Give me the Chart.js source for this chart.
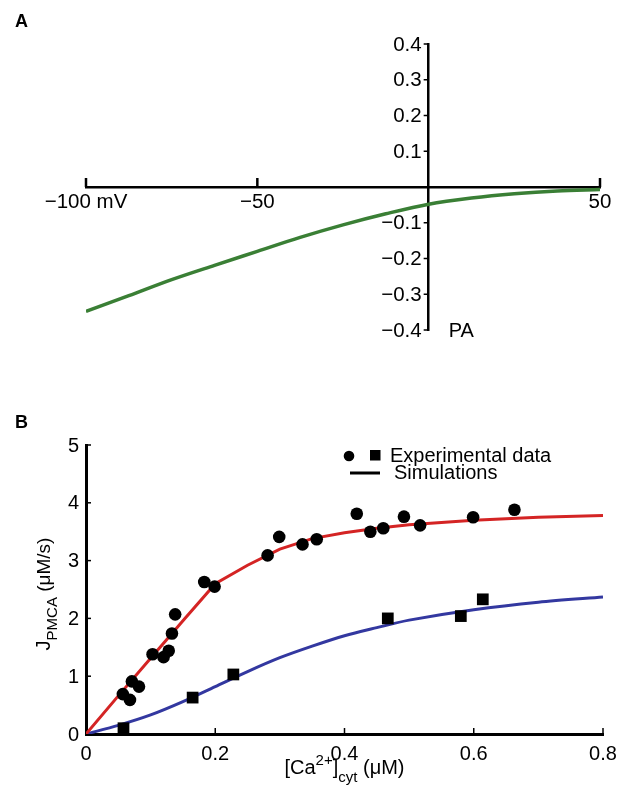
<!DOCTYPE html>
<html>
<head>
<meta charset="utf-8">
<script src="https://cdn.jsdelivr.net/npm/chart.js@4.4.1/dist/chart.umd.min.js"></script>
<style>
  html, body { margin: 0; padding: 0; background: #fff; }
  .panel { position: absolute; left: 0; width: 630px; }
  #panelA { top: 0; height: 370px; }
  #panelB { top: 380px; height: 408px; }
</style>
</head>
<body>
<div class="panel" id="panelA"><canvas id="ivChart" width="630" height="370"></canvas></div>
<div class="panel" id="panelB"><canvas id="pmcaChart" width="630" height="408"></canvas></div>
<script>
// Panel A: pump current vs membrane potential
const voltages = [-100, -87.5, -75, -62.5, -50, -37.5, -25, -12.5, 0, 12.5, 25, 37.5, 50];
const currents = [-0.348, -0.304, -0.259, -0.219, -0.180, -0.141, -0.106, -0.075, -0.048, -0.031, -0.019, -0.011, -0.007];
const voltTicks = [-100, -50, 0, 50];
const currentTicks = [-0.4, -0.3, -0.2, -0.1, 0, 0.1, 0.2, 0.3, 0.4];

// Panel B: PMCA flux vs cytosolic calcium
const caHigh = [0.057, 0.068, 0.071, 0.082, 0.103, 0.120, 0.128, 0.133, 0.138, 0.183, 0.199, 0.281, 0.299, 0.335, 0.357, 0.419, 0.440, 0.460, 0.492, 0.517, 0.599, 0.663];
const fluxHigh = [0.69, 0.59, 0.91, 0.82, 1.38, 1.33, 1.44, 1.74, 2.07, 2.63, 2.55, 3.09, 3.41, 3.28, 3.37, 3.81, 3.50, 3.56, 3.76, 3.61, 3.75, 3.88];
const caLow = [0.058, 0.165, 0.228, 0.467, 0.580, 0.614];
const fluxLow = [0.10, 0.63, 1.03, 2.00, 2.04, 2.33];
const simCa = [0, 0.05, 0.1, 0.15, 0.2, 0.25, 0.3, 0.35, 0.4, 0.45, 0.5, 0.6, 0.7, 0.8];
const simHigh = [0, 0.66, 1.31, 1.96, 2.6, 2.92, 3.2, 3.38, 3.48, 3.56, 3.62, 3.70, 3.75, 3.78];
const simLow = [0, 0.15, 0.33, 0.56, 0.82, 1.08, 1.32, 1.52, 1.70, 1.84, 1.97, 2.15, 2.28, 2.37];
const caTicks = [0, 0.2, 0.4, 0.6, 0.8];
const fluxTicks = [0, 1, 2, 3, 4, 5];

const FONT = '"Liberation Sans", Arial, sans-serif';
Chart.defaults.font.family = FONT;
Chart.defaults.color = '#000';

const pairs = (xs, ys) => xs.map((x, i) => ({ x, y: ys[i] }));
const minus = s => String(s).replace('-', '\u2212');

// text with sub/superscript pieces, left to right from (x, y)
function richWidth(ctx, parts) {
  let w = 0;
  parts.forEach(p => { ctx.font = p.size + 'px ' + FONT; w += ctx.measureText(p.text).width; });
  return w;
}
function drawRich(ctx, parts, x, y) {
  let cx = x;
  parts.forEach(p => {
    ctx.font = p.size + 'px ' + FONT;
    ctx.fillText(p.text, cx, y + (p.dy || 0));
    cx += ctx.measureText(p.text).width;
  });
}

// vertical-axis labels sit left of an axis line that may be inside the plot
function yLabels(ctx, yScale, xPix, values, fmt, size, gap) {
  ctx.font = size + 'px ' + FONT;
  ctx.textAlign = 'right';
  ctx.textBaseline = 'middle';
  values.forEach(v => {
    const txt = fmt(v);
    if (txt) ctx.fillText(txt, xPix - gap, yScale.getPixelForValue(v) + 1);
  });
  ctx.textAlign = 'left';
  ctx.textBaseline = 'alphabetic';
}

const noGrid = { display: false, drawTicks: false };
const axisLine = w => ({ display: true, color: '#000', width: w });

// ---------- Panel A ----------
const currentLabel = v => v === 0 ? '' : minus(v.toFixed(1));

const ivDecor = {
  id: 'ivDecor',
  afterDraw(chart) {
    const { ctx, scales: { x, y } } = chart;
    const x0 = x.getPixelForValue(0);
    const y0 = y.getPixelForValue(0);
    ctx.save();
    ctx.strokeStyle = '#000';
    ctx.lineWidth = 2.5;
    voltTicks.filter(v => v !== 0).forEach(v => {
      const px = x.getPixelForValue(v);
      ctx.beginPath(); ctx.moveTo(px, y0); ctx.lineTo(px, y0 - 9); ctx.stroke();
    });
    ctx.lineWidth = 1.5;
    currentTicks.filter(v => v !== 0).forEach(v => {
      const py = y.getPixelForValue(v);
      ctx.beginPath(); ctx.moveTo(x0, py); ctx.lineTo(x0 - 5, py); ctx.stroke();
    });
    ctx.fillStyle = '#000';
    yLabels(ctx, y, x0, currentTicks, currentLabel, 20.5, 7);
    ctx.font = '20px ' + FONT;
    ctx.fillText('PA', x0 + 20, y.getPixelForValue(-0.4) + 7);
    ctx.font = 'bold 18px ' + FONT;
    ctx.fillText('A', 15, 27);
    ctx.restore();
  }
};

new Chart(document.getElementById('ivChart'), {
  type: 'scatter',
  data: {
    datasets: [{
      data: pairs(voltages, currents),
      showLine: true,
      borderColor: '#3a7f35',
      borderWidth: 3.5,
      pointRadius: 0,
      tension: 0.4,
      cubicInterpolationMode: 'monotone'
    }]
  },
  options: {
    responsive: false,
    animation: false,
    layout: { padding: { left: 86, right: 30, top: 44, bottom: 40 } },
    plugins: { legend: { display: false }, tooltip: { enabled: false } },
    scales: {
      x: {
        type: 'linear', min: -100, max: 50,
        position: { y: 0 },
        afterBuildTicks: s => { s.ticks = voltTicks.map(v => ({ value: v })); },
        ticks: {
          font: { size: 20.5 }, padding: 3, maxRotation: 0, autoSkip: false,
          callback: v => v === 0 ? '' : (v === -100 ? minus(v) + ' mV' : minus(v))
        },
        grid: noGrid,
        border: axisLine(2.5)
      },
      y: {
        type: 'linear', min: -0.4, max: 0.4,
        position: { x: 0 },
        afterBuildTicks: s => { s.ticks = currentTicks.map(v => ({ value: v })); },
        ticks: { display: false },
        grid: noGrid,
        border: axisLine(2.5)
      }
    }
  },
  plugins: [ivDecor]
});

// ---------- Panel B ----------
const pmcaDecor = {
  id: 'pmcaDecor',
  afterDraw(chart) {
    const { ctx, chartArea, scales: { x, y } } = chart;
    const x0 = x.getPixelForValue(0);
    const y0 = y.getPixelForValue(0);
    ctx.save();
    ctx.strokeStyle = '#000';
    ctx.lineWidth = 1.5;
    fluxTicks.slice(1).forEach(v => {
      const py = y.getPixelForValue(v);
      ctx.beginPath(); ctx.moveTo(x0, py); ctx.lineTo(x0 + 5, py); ctx.stroke();
    });
    caTicks.slice(1).forEach(v => {
      const px = x.getPixelForValue(v);
      ctx.beginPath(); ctx.moveTo(px, y0); ctx.lineTo(px, y0 - 6); ctx.stroke();
    });

    ctx.fillStyle = '#000';
    yLabels(ctx, y, x0, fluxTicks, v => String(v), 20, 7);

    // x axis title
    const xt = [
      { text: '[Ca', size: 20 },
      { text: '2+', size: 15, dy: -9 },
      { text: ']', size: 20 },
      { text: 'cyt', size: 15, dy: 8 },
      { text: ' (\u03bcM)', size: 20 }
    ];
    const cx = (chartArea.left + chartArea.right) / 2;
    drawRich(ctx, xt, cx - richWidth(ctx, xt) / 2, 394);

    // y axis title, reading upwards
    const yt = [
      { text: 'J', size: 20 },
      { text: 'PMCA', size: 15, dy: 7 },
      { text: ' (\u03bcM/s)', size: 19 }
    ];
    ctx.save();
    ctx.translate(50, 214 + richWidth(ctx, yt) / 2);
    ctx.rotate(-Math.PI / 2);
    drawRich(ctx, yt, 0, 0);
    ctx.restore();

    // legend
    ctx.beginPath(); ctx.arc(349, 76, 5.3, 0, Math.PI * 2); ctx.fill();
    ctx.fillRect(370, 70, 10.5, 10.5);
    ctx.lineWidth = 3;
    ctx.beginPath(); ctx.moveTo(350, 93); ctx.lineTo(380, 93); ctx.stroke();
    ctx.font = '20px ' + FONT;
    ctx.fillText('Experimental data', 390, 82);
    ctx.fillText('Simulations', 394, 99);

    ctx.font = 'bold 18px ' + FONT;
    ctx.fillText('B', 15, 48);
    ctx.restore();
  }
};

new Chart(document.getElementById('pmcaChart'), {
  type: 'scatter',
  data: {
    datasets: [
      { data: pairs(caHigh, fluxHigh), pointStyle: 'circle', pointRadius: 6.3, backgroundColor: '#000', borderWidth: 0 },
      { data: pairs(caLow, fluxLow), pointStyle: 'rect', pointRadius: 8.3, backgroundColor: '#000', borderWidth: 0 },
      { data: pairs(simCa, simHigh), showLine: true, borderColor: '#d42424', borderWidth: 3, pointRadius: 0, tension: 0 },
      { data: pairs(simCa, simLow), showLine: true, borderColor: '#3338a0', borderWidth: 3, pointRadius: 0, tension: 0.3 }
    ]
  },
  options: {
    responsive: false,
    animation: false,
    layout: { padding: { left: 86, right: 27, top: 65, bottom: 54 } },
    plugins: { legend: { display: false }, tooltip: { enabled: false } },
    scales: {
      x: {
        type: 'linear', min: 0, max: 0.8,
        position: { y: 0 },
        afterBuildTicks: s => { s.ticks = caTicks.map(v => ({ value: v })); },
        ticks: {
          font: { size: 20 }, padding: 8, maxRotation: 0, autoSkip: false,
          callback: v => v === 0 ? '0' : v.toFixed(1)
        },
        grid: noGrid,
        border: axisLine(3)
      },
      y: {
        type: 'linear', min: 0, max: 5,
        position: { x: 0 },
        afterBuildTicks: s => { s.ticks = fluxTicks.map(v => ({ value: v })); },
        ticks: { display: false },
        grid: noGrid,
        border: axisLine(3)
      }
    }
  },
  plugins: [pmcaDecor]
});
</script>
</body>
</html>
